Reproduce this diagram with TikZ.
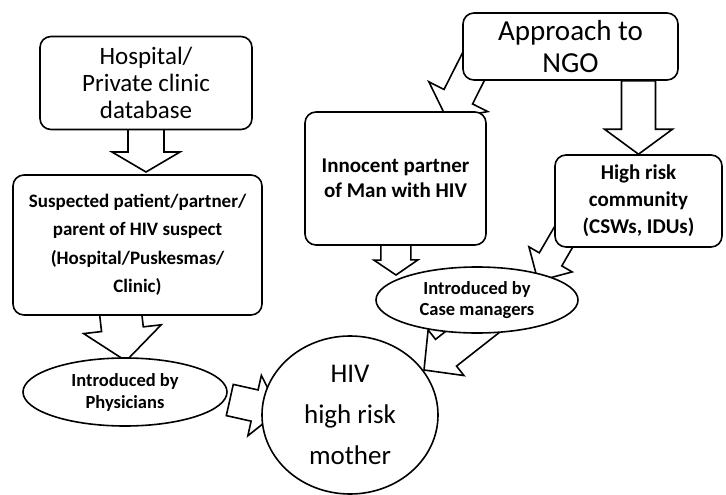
\documentclass[tikz,border=0pt]{standalone}
\usepackage{fontspec}
\setmainfont{Carlito}
\usetikzlibrary{calc,shapes.geometric,backgrounds}

\begin{document}
\begin{tikzpicture}[x=1pt, y=-1pt,
    box/.style={draw, rectangle, rounded corners=11pt, line width=1.6pt, fill=white, align=center, inner sep=0pt},
    oval/.style={draw, ellipse, line width=1.6pt, fill=white, align=center, inner sep=0pt},
    barrow/.style n args={3}{draw, fill=white, line width=1.6pt, to path={
      let \p1=($(\tikztotarget)!#3!(\tikztostart)$) in
      ($(\tikztostart)!#1!90:(\tikztotarget)$)
      -- ($(\p1)!#1!90:(\tikztotarget)$)
      -- ($(\p1)!#2!90:(\tikztotarget)$)
      -- (\tikztotarget)
      -- ($(\p1)!#2!-90:(\tikztotarget)$)
      -- ($(\p1)!#1!-90:(\tikztotarget)$)
      -- ($(\tikztostart)!#1!-90:(\tikztotarget)$)
      -- cycle}}]
  \useasboundingbox (0,0) rectangle (726,495);

  % left column
  \node[box, minimum width=212pt, minimum height=93pt, font=\fontsize{25}{27}\selectfont] (hosp) at (146,83) {Hospital/\\Private clinic\\database};
  \node[box, minimum width=249pt, minimum height=140pt, font=\fontsize{19}{28.5}\selectfont\bfseries] (susp) at (137.5,245) {Suspected patient/partner/\\parent of HIV suspect\\(Hospital/Puskesmas/\\Clinic)};
  \node[oval, minimum width=204pt, minimum height=68pt, font=\fontsize{18.5}{22}\selectfont\bfseries] (phys) at (125,392) {Introduced by\\Physicians};

  % right column
  \node[box, minimum width=215pt, minimum height=67pt, font=\fontsize{29}{32}\selectfont] (appr) at (570.5,46.5) {Approach to\\NGO};
  \node[box, minimum width=181pt, minimum height=133pt, font=\fontsize{21}{25}\selectfont\bfseries] (inno) at (395.5,178.5) {Innocent partner\\of Man with HIV};
  \node[box, minimum width=167pt, minimum height=92pt, font=\fontsize{21}{27}\selectfont\bfseries] (hrisk) at (638.5,201) {High risk\\community\\(CSWs, IDUs)};
  \node[oval, minimum width=202pt, minimum height=66pt, font=\fontsize{18.5}{21}\selectfont\bfseries] (case) at (477,300) {Introduced by\\Case managers};

  % mother
  \node[oval, minimum width=176pt, minimum height=158pt, font=\fontsize{27}{41}\selectfont] (moth) at (350,415) {HIV\\high risk\\mother};

  % arrow tips
  \coordinate (t1) at (146,172);
  \coordinate (t2) at (126,361);
  \coordinate (t3) at (279,411);
  \coordinate (t4) at (447,119);
  \coordinate (t6) at (396,275);
  \coordinate (t7) at (538,281);
  \coordinate (t8) at (424,370);

  \begin{scope}[on background layer]
    \draw[barrow={18pt}{34pt}{20pt}] (hosp) to (t1);
    \draw[barrow={21pt}{39pt}{32pt}] ($(susp.south)+(-20,-30)$) to (t2);
    \draw[barrow={16pt}{31pt}{25pt}] ($(phys.east)+(2,8)$) to (t3);
    \draw[barrow={16pt}{33pt}{25pt}] ($(appr.west)+(25,-7)$) to (t4);
    \draw[barrow={17pt}{34pt}{25pt}] (appr.south -| hrisk.north) to (hrisk.north);
    \draw[barrow={15pt}{22pt}{15pt}] (inno) to (t6);
    \draw[barrow={13pt}{25pt}{25pt}] ($(hrisk.south west)+(35,-55)$) to (t7);
    \draw[barrow={17pt}{29pt}{28pt}] ($(case)+(26,8)$) to (t8);
  \end{scope}
\end{tikzpicture}
\end{document}
